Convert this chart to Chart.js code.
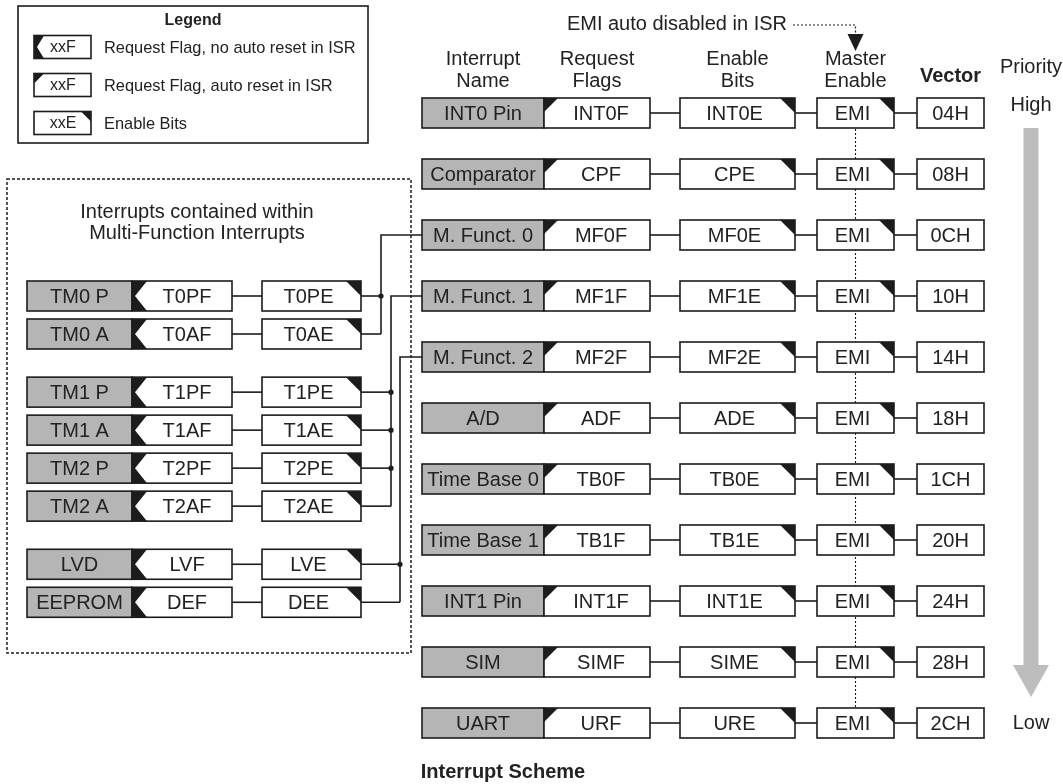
<!DOCTYPE html>
<html>
<head>
<meta charset="utf-8">
<title>Interrupt Scheme</title>
<script src="https://cdn.jsdelivr.net/npm/chart.js@4.4.1/dist/chart.umd.min.js"></script>
<style>
  html, body { margin: 0; padding: 0; background: #fff; }
  #wrap { width: 1063px; height: 784px; }
</style>
</head>
<body>
<div id="wrap"><canvas id="scheme" width="1063" height="784"></canvas></div>
<script>
// Main interrupt table, one entry per row (high priority first)
const interruptNames = ['INT0 Pin', 'Comparator', 'M. Funct. 0', 'M. Funct. 1', 'M. Funct. 2', 'A/D',
  'Time Base 0', 'Time Base 1', 'INT1 Pin', 'SIM', 'UART'];
const requestFlags = ['INT0F', 'CPF', 'MF0F', 'MF1F', 'MF2F', 'ADF', 'TB0F', 'TB1F', 'INT1F', 'SIMF', 'URF'];
const enableBits = ['INT0E', 'CPE', 'MF0E', 'MF1E', 'MF2E', 'ADE', 'TB0E', 'TB1E', 'INT1E', 'SIME', 'URE'];
const masterEnables = ['EMI', 'EMI', 'EMI', 'EMI', 'EMI', 'EMI', 'EMI', 'EMI', 'EMI', 'EMI', 'EMI'];
const vectors = ['04H', '08H', '0CH', '10H', '14H', '18H', '1CH', '20H', '24H', '28H', '2CH'];

// Interrupts contained within the multi-function interrupts
const subNames = ['TM0 P', 'TM0 A', 'TM1 P', 'TM1 A', 'TM2 P', 'TM2 A', 'LVD', 'EEPROM'];
const subFlags = ['T0PF', 'T0AF', 'T1PF', 'T1AF', 'T2PF', 'T2AF', 'LVF', 'DEF'];
const subEnables = ['T0PE', 'T0AE', 'T1PE', 'T1AE', 'T2PE', 'T2AE', 'LVE', 'DEE'];
const subGroup = [0, 0, 1, 1, 1, 1, 2, 2];      // which bus each one joins
const groupTarget = [2, 3, 4];                   // main row each bus feeds (M. Funct. 0/1/2)

const headers = [['Interrupt', 'Name'], ['Request', 'Flags'], ['Enable', 'Bits'], ['Master', 'Enable']];
const legendItems = [
  { tag: 'xxF', text: 'Request Flag, no auto reset in ISR', kind: 'noauto' },
  { tag: 'xxF', text: 'Request Flag, auto reset in ISR', kind: 'auto' },
  { tag: 'xxE', text: 'Enable Bits', kind: 'enable' }
];

// layout (x in canvas units, y in main-row units)
const COL = { name: [422, 544], flag: [544, 650], enable: [680, 795], emi: [817, 894], vector: [917, 984] };
const SUB = { name: [27, 132], flag: [132, 232], enable: [262, 361] };
const BUS_X = [381, 391, 400];
const SUB_START = 3, SUB_STEP = 0.623, SUB_GAP = 0.33;
const ROW_PX = 61, TOP_ROW_PX = 113;

const INK = '#1c1c1c';
const TXT = '#222';
const GREY = '#b5b5b5';
const ARROW_GREY = '#bdbdbd';
const FONT = '"Liberation Sans", Arial, Helvetica, sans-serif';

const subRowPos = subNames.map((_, i) => SUB_START + i * SUB_STEP + subGroup[i] * SUB_GAP);

function drawBox(ctx, x0, x1, yc, h, fill) {
  ctx.fillStyle = fill;
  ctx.fillRect(x0, yc - h / 2, x1 - x0, h);
  ctx.lineWidth = 1.6;
  ctx.strokeStyle = INK;
  ctx.strokeRect(x0, yc - h / 2, x1 - x0, h);
}

// black corner marks on flag / enable boxes
function drawMark(ctx, x0, x1, yc, h, kind, n) {
  const t = yc - h / 2, b = yc + h / 2;
  ctx.fillStyle = INK;
  ctx.beginPath();
  if (kind === 'noauto') {
    ctx.moveTo(x0, t); ctx.lineTo(x0 + n, t); ctx.lineTo(x0 + 3, yc);
    ctx.lineTo(x0 + n, b); ctx.lineTo(x0, b);
  } else if (kind === 'auto') {
    ctx.moveTo(x0, t); ctx.lineTo(x0 + n, t); ctx.lineTo(x0, t + n);
  } else {
    ctx.moveTo(x1 - n, t); ctx.lineTo(x1, t); ctx.lineTo(x1, t + n);
  }
  ctx.closePath();
  ctx.fill();
}

function text(ctx, str, x, y, size, bold, align) {
  ctx.fillStyle = TXT;
  ctx.font = (bold ? 'bold ' : '') + size + 'px ' + FONT;
  ctx.textAlign = align || 'center';
  ctx.textBaseline = 'middle';
  ctx.fillText(str, x, y);
}

function line(ctx, pts, dash, width) {
  ctx.save();
  ctx.strokeStyle = INK;
  ctx.lineWidth = width || 1.6;
  ctx.setLineDash(dash || []);
  ctx.beginPath();
  pts.forEach((p, i) => (i ? ctx.lineTo(p[0], p[1]) : ctx.moveTo(p[0], p[1])));
  ctx.stroke();
  ctx.restore();
}

const schemePlugin = {
  id: 'scheme',
  afterDraw(chart) {
    const { ctx, scales: { x, y } } = chart;
    const px = v => x.getPixelForValue(v);
    const py = v => y.getPixelForValue(v);
    const H = 30;
    ctx.save();

    // legend
    drawBox(ctx, px(18), px(368), 74.5, 137, '#fff');
    text(ctx, 'Legend', px(193), 21, 16, true);
    legendItems.forEach((it, i) => {
      const yc = 47 + i * 38;
      drawBox(ctx, px(34), px(91), yc, 23, '#fff');
      drawMark(ctx, px(34), px(91), yc, 23, it.kind, 10);
      text(ctx, it.tag, px(63), yc + 1, 16);
      text(ctx, it.text, px(104), yc + 1, 16.4, false, 'left');
    });

    // dashed frame of the multi-function block
    ctx.save();
    ctx.strokeStyle = INK; ctx.lineWidth = 1.5; ctx.setLineDash([3, 2]);
    ctx.strokeRect(px(7), 179, px(411) - px(7), 474);
    ctx.restore();
    text(ctx, 'Interrupts contained within', px(197), 212, 20);
    text(ctx, 'Multi-Function Interrupts', px(197), 233, 20);

    // top annotation with dotted leader into the EMI column
    const emiX = px((COL.emi[0] + COL.emi[1]) / 2);
    text(ctx, 'EMI auto disabled in ISR', px(787), 24, 20, false, 'right');
    line(ctx, [[px(793), 25], [emiX, 25], [emiX, 36]], [2, 2], 1.2);
    ctx.fillStyle = INK;
    ctx.beginPath();
    ctx.moveTo(emiX - 8, 34); ctx.lineTo(emiX + 8, 34); ctx.lineTo(emiX, 51);
    ctx.closePath(); ctx.fill();

    // column headers
    const cols = [COL.name, COL.flag, COL.enable, COL.emi];
    headers.forEach((hd, i) => {
      const cx = px((cols[i][0] + cols[i][1]) / 2);
      text(ctx, hd[0], cx, 59, 20);
      text(ctx, hd[1], cx, 81, 20);
    });
    text(ctx, 'Vector', px((COL.vector[0] + COL.vector[1]) / 2), 76, 20, true);
    text(ctx, 'Priority', px(1031), 67, 20);
    text(ctx, 'High', px(1031), py(0) - 8, 20);
    text(ctx, 'Low', px(1031), py(interruptNames.length - 1), 20);

    // priority arrow
    const ax = px(1031);
    const tipY = py(interruptNames.length - 1) - 26;
    ctx.fillStyle = ARROW_GREY;
    ctx.fillRect(ax - 7.5, py(0) + H / 2, 15, tipY - 31 - (py(0) + H / 2));
    ctx.beginPath();
    ctx.moveTo(ax - 18, tipY - 32); ctx.lineTo(ax + 18, tipY - 32); ctx.lineTo(ax, tipY);
    ctx.closePath(); ctx.fill();

    // dotted EMI bus
    line(ctx, [[emiX, py(0)], [emiX, py(interruptNames.length - 1)]], [2, 2], 1.1);

    // main rows
    interruptNames.forEach((name, i) => {
      const yc = py(i);
      line(ctx, [[px(COL.flag[1]), yc], [px(COL.enable[0]), yc]]);
      line(ctx, [[px(COL.enable[1]), yc], [px(COL.emi[0]), yc]]);
      line(ctx, [[px(COL.emi[1]), yc], [px(COL.vector[0]), yc]]);
      drawBox(ctx, px(COL.name[0]), px(COL.name[1]), yc, H, GREY);
      drawBox(ctx, px(COL.flag[0]), px(COL.flag[1]), yc, H, '#fff');
      drawMark(ctx, px(COL.flag[0]), px(COL.flag[1]), yc, H, 'auto', 14);
      drawBox(ctx, px(COL.enable[0]), px(COL.enable[1]), yc, H, '#fff');
      drawMark(ctx, px(COL.enable[0]), px(COL.enable[1]), yc, H, 'enable', 15);
      drawBox(ctx, px(COL.emi[0]), px(COL.emi[1]), yc, H, '#fff');
      drawMark(ctx, px(COL.emi[0]), px(COL.emi[1]), yc, H, 'enable', 15);
      drawBox(ctx, px(COL.vector[0]), px(COL.vector[1]), yc, H, '#fff');
      text(ctx, name, px((COL.name[0] + COL.name[1]) / 2), yc + 1, 20);
      text(ctx, requestFlags[i], px((COL.flag[0] + COL.flag[1]) / 2 + 4), yc + 1, 20);
      text(ctx, enableBits[i], px((COL.enable[0] + COL.enable[1]) / 2 - 3), yc + 1, 20);
      text(ctx, masterEnables[i], px((COL.emi[0] + COL.emi[1]) / 2 - 3), yc + 1, 20);
      text(ctx, vectors[i], px((COL.vector[0] + COL.vector[1]) / 2), yc + 1, 20);
    });

    // buses from the contained interrupts to the multi-function rows
    groupTarget.forEach((target, g) => {
      const members = subRowPos.filter((_, i) => subGroup[i] === g);
      const bx = px(BUS_X[g]);
      const last = py(members[members.length - 1]);
      line(ctx, [[bx, last], [bx, py(target)], [px(COL.name[0]), py(target)]]);
      members.forEach((r, k) => {
        line(ctx, [[px(SUB.enable[1]), py(r)], [bx, py(r)]]);
        if (k < members.length - 1) {
          ctx.fillStyle = INK;
          ctx.beginPath(); ctx.arc(bx, py(r), 2.6, 0, Math.PI * 2); ctx.fill();
        }
      });
    });

    // contained interrupt rows
    subNames.forEach((name, i) => {
      const yc = py(subRowPos[i]);
      line(ctx, [[px(SUB.flag[1]), yc], [px(SUB.enable[0]), yc]]);
      drawBox(ctx, px(SUB.name[0]), px(SUB.name[1]), yc, H, GREY);
      drawBox(ctx, px(SUB.flag[0]), px(SUB.flag[1]), yc, H, '#fff');
      drawMark(ctx, px(SUB.flag[0]), px(SUB.flag[1]), yc, H, 'noauto', 15);
      drawBox(ctx, px(SUB.enable[0]), px(SUB.enable[1]), yc, H, '#fff');
      drawMark(ctx, px(SUB.enable[0]), px(SUB.enable[1]), yc, H, 'enable', 15);
      text(ctx, name, px((SUB.name[0] + SUB.name[1]) / 2), yc + 1, 20);
      text(ctx, subFlags[i], px((SUB.flag[0] + SUB.flag[1]) / 2 + 5), yc + 1, 20);
      text(ctx, subEnables[i], px((SUB.enable[0] + SUB.enable[1]) / 2 - 3), yc + 1, 20);
    });

    // caption
    text(ctx, 'Interrupt Scheme', px(503), 772, 20, true);
    ctx.restore();
  }
};

new Chart(document.getElementById('scheme'), {
  type: 'scatter',
  data: {
    datasets: [{
      label: 'Vectors',
      data: vectors.map((v, i) => ({ x: (COL.vector[0] + COL.vector[1]) / 2, y: i })),
      pointRadius: 0
    }]
  },
  options: {
    responsive: false,
    animation: false,
    layout: { padding: 0 },
    plugins: { legend: { display: false }, tooltip: { enabled: false } },
    scales: {
      x: { type: 'linear', min: 0, max: 1063, display: false },
      y: { type: 'linear', reverse: true, min: -TOP_ROW_PX / ROW_PX, max: (784 - TOP_ROW_PX) / ROW_PX, display: false }
    }
  },
  plugins: [schemePlugin]
});
</script>
</body>
</html>
